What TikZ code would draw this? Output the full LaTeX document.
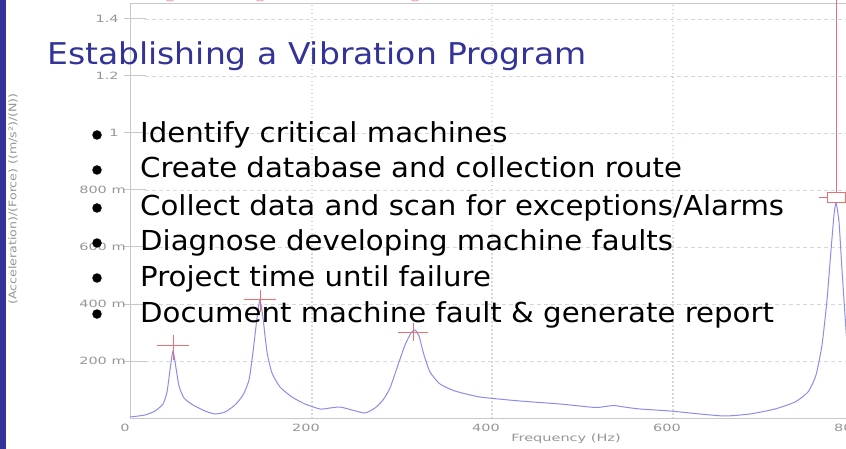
\documentclass[tikz,border=0pt]{standalone}
\usepackage{fontspec}
\setmainfont{DejaVu Sans}
\definecolor{slideblue}{HTML}{333399}
\definecolor{axisgray}{HTML}{C8C8C8}
\definecolor{gridgray}{HTML}{D4DADA}
\definecolor{labelgray}{HTML}{969696}
\definecolor{curveblue}{HTML}{8C8CEA}
\definecolor{markred}{HTML}{E87070}
\tikzset{
  frameline/.style={draw=axisgray, line width=1pt},
  hgrid/.style={draw=gridgray, line width=0.9pt, dash pattern=on 4pt off 3pt},
  vgrid/.style={draw=gridgray, line width=1.2pt, dash pattern=on 1.5pt off 2.5pt},
  ticklabel/.style={text=labelgray, font=\fontsize{10}{10}\selectfont, inner sep=0pt, xscale=1.45},
  curve/.style={draw=curveblue, line width=1pt},
  redmark/.style={draw=markred, line width=0.9pt},
  bullettext/.style={anchor=base west, inner sep=0pt, font=\fontsize{27.5}{30}\selectfont, text=black, xscale=1.062},
  bulletdot/.style={circle, fill=black, inner sep=0pt, minimum size=9.5pt},
}
\begin{document}
\begin{tikzpicture}[x=1pt,y=-1pt]
\useasboundingbox (0,0) rectangle (846,449);
\fill[white] (0,0) rectangle (846,449);
\begin{scope}
\clip (0,0) rectangle (846,449);
% grid
\foreach \yy in {19,76,133,190,247,304,361}{
  \draw[hgrid] (145,\yy) -- (846,\yy);
  \draw[frameline] (124,\yy) -- (146,\yy);
}
\foreach \xx in {312,492,673}{
  \draw[vgrid] (\xx,5) -- (\xx,418);
}
% frame
\draw[frameline] (130,4) -- (130,418) -- (852,418);
\draw[frameline] (130,4) -- (852,4);
% y tick labels
\node[ticklabel, anchor=east] (y14) at (119,19) {1.4};
\node[ticklabel, anchor=east] (y12) at (119,76) {1.2};
\node[ticklabel, anchor=east] (y10) at (119,133) {1};
\node[ticklabel, anchor=east] (y08) at (126,190) {800 m};
\node[ticklabel, anchor=east] (y06) at (126,247) {600 m};
\node[ticklabel, anchor=east] (y04) at (126,304) {400 m};
\node[ticklabel, anchor=east] (y02) at (126,361) {200 m};
% x tick labels
\node[ticklabel] (x0) at (125,428) {0};
\node[ticklabel] (x200) at (306,428) {200};
\node[ticklabel] (x400) at (486,428) {400};
\node[ticklabel] (x600) at (667,428) {600};
\node[ticklabel] (x800) at (848,428) {800};
\node[ticklabel] (xlab) at (566,439) {Frequency (Hz)};
\node[text=labelgray, font=\fontsize{10.5}{10.5}\selectfont, inner sep=0pt, rotate=90] (ylab) at (13,199) {\scalebox{1.2}[1]{(Acceleration)/(Force) ((m/s²)/(N))}};
% curve
\draw[curve] plot[smooth, tension=0.35] coordinates {
(130,417) (145,415) (155,411) (163,404) (167,392) (170,370) (173,351) (176,368) (179,386) (184,398) (193,405) (205,411) (215,414) (225,412) (235,405) (243,395) (249,380) (253,352) (257,318) (260,300) (263,318) (267,352) (272,373) (280,387) (292,397) (305,404) (320,409) (330,408) (340,407) (352,410) (365,413) (375,408) (383,400) (390,388) (398,365) (405,345) (411,333) (415,330) (419,336) (424,355) (430,372) (440,384) (455,391) (480,397) (520,401) (560,404) (595,407.5) (605,406.5) (614,405.5) (624,407) (640,409) (670,411) (700,414) (725,416) (750,414) (775,409) (795,402) (808,392) (816,375) (822,345) (827,300) (831,250) (834,215) (836,203) (839,222) (842,270) (846,330) (850,380)};
% markers
\draw[redmark] (157,345) -- (189,345);
\draw[redmark] (173,335) -- (173,360);
\draw[redmark] (244,299) -- (276,299);
\draw[redmark] (260,290) -- (260,312);
\draw[redmark] (398,332) -- (428,332);
\draw[redmark] (413,323) -- (413,341);
\draw[redmark] (827,192) rectangle (845,202);
\draw[redmark] (836,0) -- (836,192);
\draw[redmark] (819,197) -- (827,197);
\draw[redmark, draw=markred!60] (170,-6) circle (7);
\draw[redmark, draw=markred!60] (260,-6) circle (7);
\draw[redmark, draw=markred!60] (415,-6) circle (7);
\end{scope}
% left bar
\fill[slideblue] (0,0) rectangle (6,449);
% title
\node[anchor=base west, inner sep=0pt, text=slideblue, font=\fontsize{30}{32}\selectfont, xscale=1.1] (title) at (47,65) {Establishing a Vibration Program};
% bullets
\foreach \nm/\yy/\txt in {b1/143/{Identify critical machines}, b2/178/{Create database and collection route}, b3/216/{Collect data and scan for exceptions/Alarms}, b4/251/{Diagnose developing machine faults}, b5/286/{Project time until failure}, b6/322/{Document machine fault \& generate report}}{
  \node[bullettext] (\nm) at (140,\yy) {\txt};
  \node[bulletdot] (\nm dot) at (97,\yy-8) {};
}
\end{tikzpicture}
\end{document}
